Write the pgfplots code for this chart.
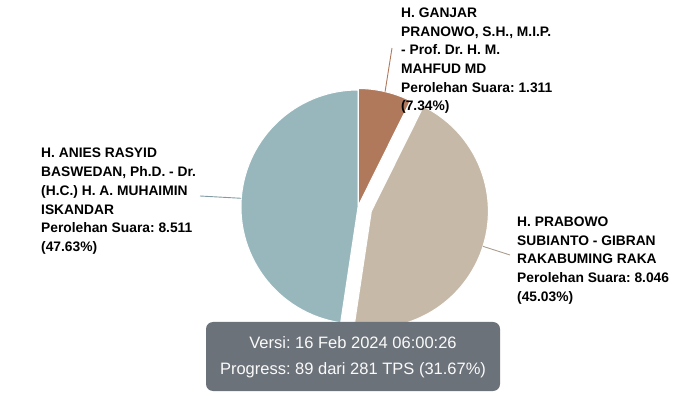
\documentclass[border=0pt]{standalone}
\usepackage{fontspec}
\setmainfont{Liberation Sans}
\usepackage{pgfplots}
\usepackage{pgfplotstable}
\pgfplotsset{compat=1.18}
\frenchspacing
\definecolor{anies}{RGB}{151,183,189}
\definecolor{prabowo}{RGB}{198,185,168}
\definecolor{ganjar}{RGB}{176,121,92}
\definecolor{tip}{RGB}{108,114,121}

\pgfplotstableread[col sep=comma]{
id,votes,pct
Ganjar,1311,7.34
Prabowo,8046,45.03
Anies,8511,47.63
}\piedata

\newcommand\labfont{\bfseries\fontsize{13.8}{16}\selectfont}
\newcommand\lab[3]{\node[anchor=base west,inner sep=0pt,font=\labfont] at (axis cs:#1,#2) {#3};}

\pgfplotstablegetelem{0}{pct}\of\piedata \let\pG\pgfplotsretval
\pgfplotstablegetelem{1}{pct}\of\piedata \let\pP\pgfplotsretval
\pgfplotstablegetelem{2}{pct}\of\piedata \let\pA\pgfplotsretval
\pgfmathsetmacro\aA{90}
\pgfmathsetmacro\aB{90-3.6*\pG}
\pgfmathsetmacro\aC{\aB-3.6*\pP}
\pgfmathsetmacro\aD{\aC-3.6*\pA}
\pgfmathsetmacro\mG{(\aA+\aB)/2}
\pgfmathsetmacro\mP{(\aB+\aC)/2}
\pgfmathsetmacro\mA{(\aC+\aD)/2}
\pgfmathsetmacro\R{117}
\pgfmathsetmacro\cx{358}
\pgfmathsetmacro\cy{186}
\pgfmathsetmacro\gx{\cx+1.5*cos(\mG)}
\pgfmathsetmacro\gy{\cy+1.5*sin(\mG)}
\pgfmathsetmacro\px{\cx+14*cos(\mP)}
\pgfmathsetmacro\py{\cy+14*sin(\mP)}
\pgfmathsetmacro\gex{\gx+\R*cos(\mG)}
\pgfmathsetmacro\gey{\gy+\R*sin(\mG)}
\pgfmathsetmacro\pex{\px+\R*cos(\mP)}
\pgfmathsetmacro\pey{\py+\R*sin(\mP)}
\pgfmathsetmacro\aex{\cx+\R*cos(\mA)}
\pgfmathsetmacro\aey{\cy+\R*sin(\mA)}

\begin{document}
\begin{tikzpicture}
\begin{axis}[
  x=1pt, y=1pt,
  xmin=0, xmax=700, ymin=0, ymax=393,
  hide axis, clip=false,
]
\path (axis cs:0,0) rectangle (axis cs:700,393);
% slices
\filldraw[fill=anies,draw=white,line width=1pt,line join=round]
  (axis cs:\cx,\cy) -- ++(\aC:\R pt) arc[start angle=\aC,end angle=\aD,radius=\R pt] -- cycle;
\filldraw[fill=ganjar,draw=white,line width=1pt,line join=round]
  (axis cs:\gx,\gy) -- ++(\aA:\R pt) arc[start angle=\aA,end angle=\aB,radius=\R pt] -- cycle;
\filldraw[fill=prabowo,draw=white,line width=1pt,line join=round]
  (axis cs:\px,\py) -- ++(\aB:\R pt) arc[start angle=\aB,end angle=\aC,radius=\R pt] -- cycle;
% connectors
\draw[anies!85!black,line width=0.9pt] (axis cs:\aex,\aey) -- (axis cs:200,197);
\draw[ganjar,line width=0.9pt] (axis cs:\gex,\gey) -- (axis cs:392,345);
\draw[prabowo!85!black,line width=0.9pt] (axis cs:\pex,\pey) -- (axis cs:510,138);
% labels
\lab{401}{375.5}{H. GANJAR}
\lab{401}{356.8}{PRANOWO, S.H., M.I.P.}
\lab{401}{338.1}{- Prof. Dr. H. M.}
\lab{401}{319.4}{MAHFUD MD}
\lab{401}{300.7}{Perolehan Suara: 1.311}
\lab{401}{282}{(7.34\%)}
\lab{41}{235}{H. ANIES RASYID}
\lab{41}{216.3}{BASWEDAN, Ph.D. - Dr.}
\lab{41}{197.6}{(H.C.) H. A. MUHAIMIN}
\lab{41}{178.9}{ISKANDAR}
\lab{41}{160.2}{Perolehan Suara: 8.511}
\lab{41}{141.5}{(47.63\%)}
\lab{517}{166.5}{H. PRABOWO}
\lab{517}{147.8}{SUBIANTO - GIBRAN}
\lab{517}{129.1}{RAKABUMING RAKA}
\lab{517}{110.4}{Perolehan Suara: 8.046}
\lab{517}{91.7}{(45.03\%)}
% tooltip
\fill[tip,rounded corners=7pt] (axis cs:206,2) rectangle (axis cs:500,71);
\node[anchor=base,inner sep=0pt,text=white!96!gray,font=\fontsize{16.5}{19}\selectfont] at (axis cs:353,44.5) {Versi: 16 Feb 2024 06:00:26};
\node[anchor=base,inner sep=0pt,text=white!96!gray,font=\fontsize{16.5}{19}\selectfont] at (axis cs:353,18.5) {Progress: 89 dari 281 TPS (31.67\%)};
\end{axis}
\end{tikzpicture}
\end{document}
